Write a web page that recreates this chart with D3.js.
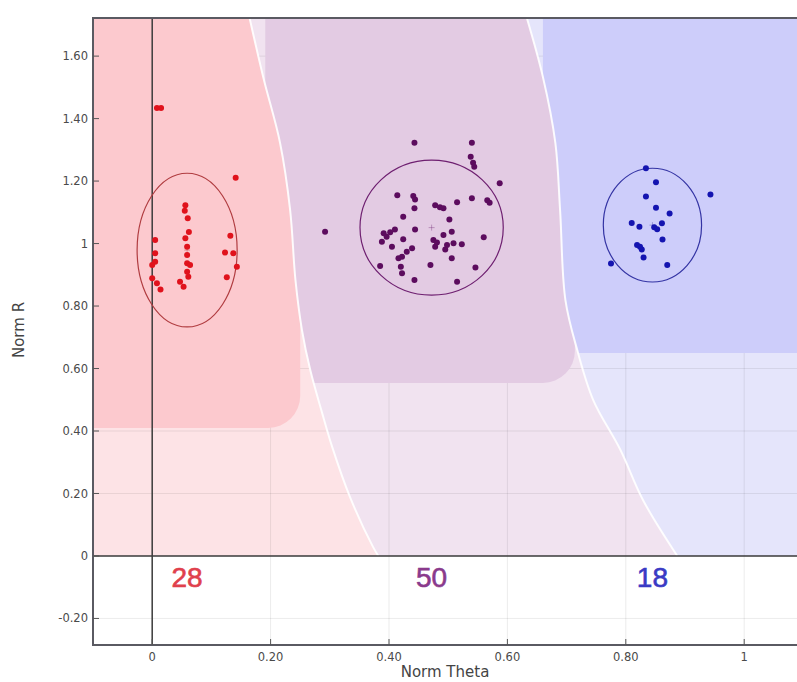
<!DOCTYPE html>
<html>
<head>
<meta charset="utf-8">
<script src="https://cdn.jsdelivr.net/npm/d3@7"></script>
<style>
  body { margin: 0; background: #fff; }
  svg { display: block; font-family: "DejaVu Sans", "Liberation Sans", Arial, sans-serif; }
</style>
</head>
<body>
<svg id="chart" width="797" height="682"></svg>
<script>
const xTicks = [0, 0.2, 0.4, 0.6, 0.8, 1]
const yTicks = [-0.2, 0, 0.2, 0.4, 0.6, 0.8, 1, 1.2, 1.4, 1.6]

// class boundaries (norm theta, norm R), top to bottom
const boundaryLeft = [
  [0.160, 1.76], [0.1875, 1.533], [0.216, 1.322], [0.233, 1.107], [0.242, 0.883],
  [0.253, 0.723], [0.267, 0.595], [0.287, 0.458], [0.304, 0.349], [0.334, 0.189],
  [0.373, 0.029], [0.382, 0],
]
const boundaryRight = [
  [0.627, 1.76], [0.660, 1.533], [0.681, 1.322], [0.689, 1.107], [0.698, 0.819],
  [0.718, 0.659], [0.745, 0.499], [0.791, 0.339], [0.829, 0.179], [0.887, 0],
]

// core areas of each class: [x0, x1, yBottom]
const coreAreas = [
  [-0.2, 0.250, 0.41],
  [0.191, 0.714, 0.554],
  [0.660, 1.2, 0.65],
]

const redPoints = [
  [0.008, 1.434], [0.015, 1.434], [0.141, 1.211], [0.056, 1.123], [0.055, 1.105],
  [0.060, 1.081], [0.005, 1.011], [0.056, 1.017], [0.132, 1.025], [0.059, 0.990],
  [0.005, 0.969], [0.005, 0.942], [0.059, 0.963], [0.059, 0.937], [0.123, 0.971],
  [0.137, 0.969], [0.143, 0.926], [0.126, 0.892], [0.059, 0.910], [0.061, 0.894],
  [0.000, 0.889], [0.008, 0.873], [0.014, 0.853], [0.053, 0.862], [0.047, 0.878],
  [0.064, 0.931], [0.000, 0.931], [0.062, 1.037],
]
const purplePoints = [
  [0.443, 1.323], [0.540, 1.323], [0.538, 1.278], [0.542, 1.259], [0.544, 1.246],
  [0.587, 1.193], [0.566, 1.139], [0.570, 1.131], [0.540, 1.145], [0.515, 1.132],
  [0.414, 1.155], [0.441, 1.152], [0.444, 1.141], [0.443, 1.113], [0.478, 1.123],
  [0.486, 1.116], [0.492, 1.113], [0.424, 1.086], [0.502, 1.077], [0.292, 1.038],
  [0.444, 1.045], [0.410, 1.045], [0.402, 1.036], [0.391, 1.033], [0.506, 1.038],
  [0.492, 1.027], [0.560, 1.020], [0.388, 1.006], [0.424, 1.014], [0.475, 1.011],
  [0.509, 1.001], [0.523, 0.998], [0.405, 0.990], [0.439, 0.985], [0.478, 0.990],
  [0.495, 0.981], [0.430, 0.974], [0.422, 0.958], [0.506, 0.953], [0.416, 0.953],
  [0.385, 0.928], [0.470, 0.931], [0.546, 0.923], [0.420, 0.926], [0.422, 0.905],
  [0.443, 0.883], [0.515, 0.878], [0.396, 1.022], [0.498, 0.995], [0.481, 1.003],
]
const bluePoints = [
  [0.834, 1.241], [0.851, 1.196], [0.943, 1.157], [0.834, 1.151], [0.851, 1.115],
  [0.874, 1.096], [0.810, 1.066], [0.823, 1.054], [0.848, 1.052], [0.861, 1.065],
  [0.853, 1.046], [0.862, 1.013], [0.819, 0.995], [0.827, 0.981], [0.830, 0.955],
  [0.870, 0.931], [0.775, 0.936], [0.824, 0.990],
]

// ellipse per cluster: [cx, cy, rx, ry]
const clusterEllipses = [
  [0.059, 0.979, 0.0845, 0.246],
  [0.472, 1.051, 0.121, 0.216],
  [0.845, 1.059, 0.083, 0.182],
]
const clusterCounts = [28, 50, 18]

const CLASSES = [
  { light: "#fde3e6", core: "#fcc9ce", dot: "#e0121c", ring: "#b03c40", text: "#e0404c", points: redPoints },
  { light: "#f1e3f0", core: "#e3cbe3", dot: "#5c0c5e", ring: "#6e1f70", text: "#8a3a8c", points: purplePoints },
  { light: "#e5e5fb", core: "#cdcdfa", dot: "#1414b0", ring: "#3434a4", text: "#3a3ac4", points: bluePoints },
]

const svg = d3.select("#chart")
const M = { left: 93, top: 18, bottom: 645, right: 800 }

const x = d3.scaleLinear().domain([-0.1, 1.1]).range([M.left, M.left + 1.2 * 592])
const y = d3.scaleLinear().domain([-0.285, 1.722]).range([M.bottom, M.top])

const defs = svg.append("defs")
defs.append("clipPath").attr("id", "plotClip")
  .append("rect").attr("x", M.left).attr("y", M.top)
  .attr("width", M.right - M.left).attr("height", M.bottom - M.top)

// region polygons
const curve = d3.line().x(d => x(d[0])).y(d => y(d[1])).curve(d3.curveCatmullRom)
const xMin = -0.2, xMax = 1.2, yMax = 1.76
const pt = (a, b) => `${x(a)},${y(b)}`
const regionPaths = [
  `M${pt(xMin, 0)}L${pt(xMin, yMax)}L` + curve(boundaryLeft).slice(1) + "Z",
  curve(boundaryLeft) + "L" + curve(boundaryRight.slice().reverse()).slice(1) + "Z",
  curve(boundaryRight) + `L${pt(xMax, 0)}L${pt(xMax, yMax)}Z`,
]

const plot = svg.append("g").attr("clip-path", "url(#plotClip)")

regionPaths.forEach((p, i) => {
  defs.append("clipPath").attr("id", "region" + i).append("path").attr("d", p)
  plot.append("path").attr("d", p).attr("fill", CLASSES[i].light)
})

// grid
const grid = plot.append("g").attr("stroke", "#000").attr("stroke-opacity", 0.08).attr("stroke-width", 1)
xTicks.forEach(t => grid.append("line").attr("x1", x(t)).attr("x2", x(t)).attr("y1", M.top).attr("y2", M.bottom))
yTicks.forEach(t => grid.append("line").attr("x1", M.left).attr("x2", M.right).attr("y1", y(t)).attr("y2", y(t)))

// core (dense) areas clipped to their class region
coreAreas.forEach((a, i) => {
  plot.append("g").attr("clip-path", `url(#region${i})`)
    .append("rect")
    .attr("x", x(a[0])).attr("y", y(yMax) - 40)
    .attr("width", x(a[1]) - x(a[0]))
    .attr("height", y(a[2]) - y(yMax) + 40)
    .attr("rx", 32).attr("ry", 32)
    .attr("fill", CLASSES[i].core)
})

// boundaries
;[boundaryLeft, boundaryRight].forEach(b => {
  plot.append("path").attr("d", curve(b)).attr("fill", "none")
    .attr("stroke", "#fff").attr("stroke-width", 2).attr("stroke-opacity", 0.9)
})

// zero lines
plot.append("line").attr("x1", x(0)).attr("x2", x(0)).attr("y1", M.top).attr("y2", M.bottom)
  .attr("stroke", "#3c3c3c").attr("stroke-width", 1.5)
plot.append("line").attr("x1", M.left).attr("x2", M.right).attr("y1", y(0)).attr("y2", y(0))
  .attr("stroke", "#3c3c3c").attr("stroke-width", 1.5)

// ellipses + points
CLASSES.forEach((c, i) => {
  const [cx, cy, rx, ry] = clusterEllipses[i]
  plot.append("ellipse")
    .attr("cx", x(cx)).attr("cy", y(cy))
    .attr("rx", x(cx + rx) - x(cx)).attr("ry", y(cy) - y(cy + ry))
    .attr("fill", "none").attr("stroke", c.ring).attr("stroke-width", 1.2)
  plot.append("path")
    .attr("d", `M${x(cx) - 3},${y(cy)}h6M${x(cx)},${y(cy) - 3}v6`)
    .attr("stroke", c.ring).attr("stroke-opacity", 0.35)
  plot.append("g").selectAll("circle").data(c.points).join("circle")
    .attr("cx", d => x(d[0])).attr("cy", d => y(d[1])).attr("r", 3)
    .attr("fill", c.dot)
  plot.append("text")
    .attr("x", x(cx)).attr("y", y(-0.099))
    .attr("text-anchor", "middle")
    .attr("font-family", "'Liberation Sans', Arial, sans-serif")
    .attr("font-size", 28)
    .attr("fill", c.text).attr("stroke", c.text).attr("stroke-width", 0.6)
    .text(clusterCounts[i])
})

// frame
svg.append("path")
  .attr("d", `M${M.right},${M.top}H${M.left}V${M.bottom}H${M.right}`)
  .attr("fill", "none").attr("stroke", "#5a5a62").attr("stroke-width", 2)

// ticks (inside) + labels
const fmt = t => (t === 0 || t === 1 ? String(t) : t.toFixed(2))
const axis = svg.append("g").attr("fill", "#4a4a4a").attr("font-size", 11.5)
yTicks.forEach(t => {
  axis.append("line").attr("x1", M.left).attr("x2", M.left + 6).attr("y1", y(t)).attr("y2", y(t))
    .attr("stroke", "#555")
  axis.append("text").attr("x", M.left - 5).attr("y", y(t)).attr("dy", "0.35em")
    .attr("text-anchor", "end").text(fmt(t))
})
xTicks.forEach(t => {
  axis.append("line").attr("x1", x(t)).attr("x2", x(t)).attr("y1", M.bottom).attr("y2", M.bottom - 6)
    .attr("stroke", "#555")
  axis.append("text").attr("x", x(t)).attr("y", M.bottom + 16)
    .attr("text-anchor", "middle").text(fmt(t))
})

svg.append("text").attr("x", 445).attr("y", 677).attr("text-anchor", "middle")
  .attr("font-size", 15).attr("fill", "#444").text("Norm Theta")
svg.append("text").attr("transform", "translate(24,330) rotate(-90)").attr("text-anchor", "middle")
  .attr("font-size", 15).attr("fill", "#444").text("Norm R")
</script>
</body>
</html>
